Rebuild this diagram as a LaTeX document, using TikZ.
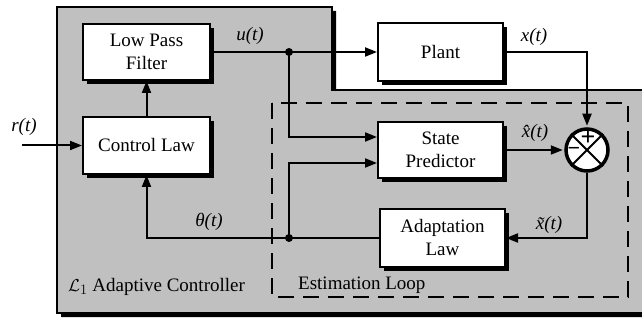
\documentclass[tikz,border=0pt]{standalone}
\usepackage{fontspec}
\setmainfont{Liberation Serif}
\usetikzlibrary{arrows.meta,shadows}
\definecolor{bgray}{RGB}{192,192,192}
\begin{document}
\begin{tikzpicture}[x=1pt,y=-1pt,
  blk/.style={draw=black, fill=white, line width=2pt, align=center, inner sep=0pt,
    font=\fontsize{19}{23}\selectfont,
    drop shadow={shadow xshift=4pt, shadow yshift=-4pt, fill=black, opacity=1}},
  conn/.style={line width=2pt},
  arr/.style={conn, -{Triangle[length=12pt,width=9pt]}},
  lbl/.style={font=\fontsize{19}{23}\selectfont\itshape, inner sep=0pt},
  txt/.style={font=\fontsize{19}{23}\selectfont, inner sep=0pt},
  dot/.style={circle, fill=black, inner sep=0pt, minimum size=8pt}
]
\useasboundingbox (0,0) rectangle (642,320);
\clip (0,0) rectangle (642,320);
% grey region with shadow
\fill[black] (61,11) -- (336,11) -- (336,94) -- (650,94) -- (650,317) -- (61,317) -- cycle;
\fill[bgray] (57,7) -- (332,7) -- (332,90) -- (650,90) -- (650,313) -- (57,313) -- cycle;
\draw[line width=2pt] (650,90) -- (332,90) -- (332,7) -- (57,7) -- (57,313) -- (650,313);
% estimation loop
\draw[line width=2.5pt, dash pattern=on 16pt off 9pt] (272,103) rectangle (628,297);
% blocks
\node[blk, minimum width=127pt, minimum height=56pt] (lpf) at (146.5,52) {Low Pass\\Filter};
\node[blk, minimum width=127pt, minimum height=57pt] (cl) at (146.5,145.5) {Control Law};
\node[blk, minimum width=125pt, minimum height=58pt] (plant) at (440.5,52) {Plant};
\node[blk, minimum width=125pt, minimum height=56pt] (sp) at (440.5,150) {State\\Predictor};
\node[blk, minimum width=125pt, minimum height=58pt] (al) at (442.5,238) {Adaptation\\Law};
% summing junction
\node[circle, draw, line width=3.5pt, fill=white, minimum size=42pt, inner sep=0pt] (sum) at (587,150) {};
\draw[line width=2pt] (sum.north west) -- (sum.south east) (sum.north east) -- (sum.south west);
\node[font=\fontsize{26}{26}\selectfont\bfseries, inner sep=0pt] (plus) at (588,138.5) {+};
\node[font=\fontsize{22}{22}\selectfont\bfseries, inner sep=0pt] (minus) at (574,151) {−};
% dots
\node[dot] (d1) at (289,52) {};
\node[dot] (d2) at (289,238) {};
\coordinate (rin) at (22,145.5);
% connectors
\draw[arr] (rin) -- (cl.west);
\draw[arr] (cl.north) -- (lpf.south);
\draw[conn] (lpf.east) -- (d1.center);
\draw[arr] (d1.center) -- (plant.west);
\draw[arr] (d1.center) |- (sp.west |- 0,137);
\draw[arr] (d2.center) |- (sp.west |- 0,163);
\draw[conn] (al.west) -- (d2.center);
\draw[arr] (d2.center) -| (cl.south);
\draw[arr, shorten >=1.5pt] (plant.east) -| (sum.north);
\draw[arr, shorten >=1.5pt] (sp.east) -- (sum.west);
\draw[arr] (sum.south) |- (al.east);
% labels
\node[lbl] (lu) at (250,36) {u(t)};
\node[lbl] (lx) at (534,37) {x(t)};
\node[lbl] (lxh) at (535,133) {\^x(t)};
\node[lbl] (lxt) at (549,225) {\~x(t)};
\node[lbl] (lth) at (209,222) {θ(t)};
\node[lbl] (lr) at (24,127) {r(t)};
\node[txt, anchor=base west] (lc) at (68,291) {$\mathcal{L}_1$ Adaptive Controller};
\node[txt, anchor=base west] (el) at (298,289) {Estimation Loop};
\end{tikzpicture}
\end{document}
